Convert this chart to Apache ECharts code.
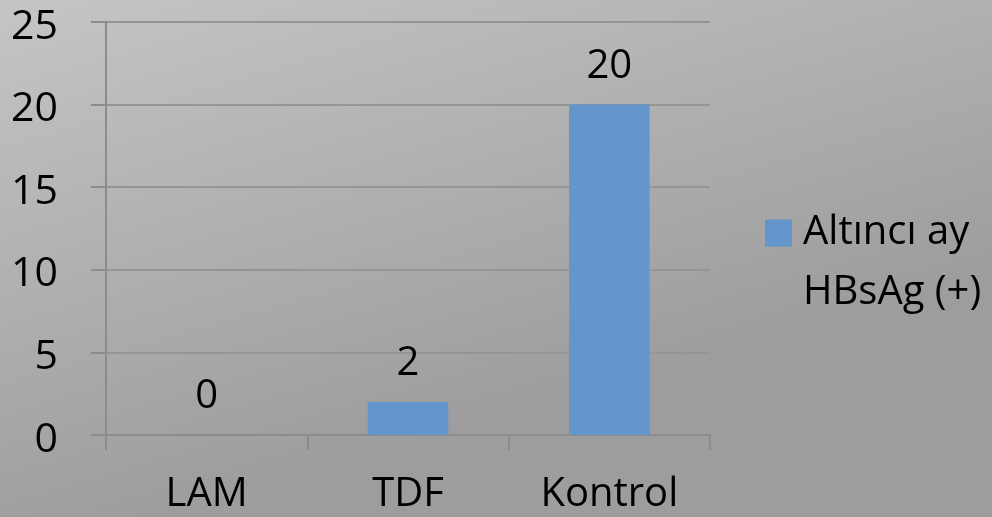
<!DOCTYPE html>
<html>
<head>
<meta charset="utf-8">
<script src="https://cdn.jsdelivr.net/npm/echarts@6/dist/echarts.min.js"></script>
<style>
html,body{margin:0;padding:0;background:#b0b0b0;}
#chart{width:992px;height:517px;}
</style>
</head>
<body>
<div id="chart"></div>
<script>
const categories = ['LAM', 'TDF', 'Kontrol'];
const values = [0, 2, 20];
const seriesName = 'Altıncı ay\nHBsAg (+)';
const yTicks = { min: 0, max: 25, interval: 5 };

const chart = echarts.init(document.getElementById('chart'));
const font = '"Open Sans", sans-serif';
chart.setOption({
  backgroundColor: {
    type: 'linear', x: 0, y: 0, x2: 0.15, y2: 1,
    colorStops: [{offset: 0, color: '#c5c5c5'}, {offset: 1, color: '#9d9d9d'}]
  },
  animation: false,
  grid: { left: 106, right: 282, top: 22, bottom: 82 },
  legend: {
    data: [seriesName],
    orient: 'vertical',
    left: 760, top: 198,
    itemWidth: 27, itemHeight: 87,
    icon: 'path://M0,0L27,0L27,27L0,27Z M0,87L27,87Z',
    selectedMode: false,
    itemStyle: { borderWidth: 0 },
    textStyle: { fontFamily: font, fontSize: 40, color: '#000', lineHeight: 60, padding: [0, 0, 0, 6] }
  },
  xAxis: {
    type: 'category',
    data: categories,
    axisLine: { lineStyle: { color: '#8c8c8c', width: 2 } },
    axisTick: { show: true, length: 15, lineStyle: { color: '#8c8c8c', width: 2 } },
    axisLabel: { fontFamily: font, fontSize: 40, color: '#000', margin: 40 }
  },
  yAxis: {
    type: 'value',
    min: yTicks.min, max: yTicks.max, interval: yTicks.interval,
    axisLine: { show: true, lineStyle: { color: '#8c8c8c', width: 2 } },
    axisTick: { show: true, length: 15, lineStyle: { color: '#8c8c8c', width: 2 } },
    splitLine: { lineStyle: { color: '#959595', width: 2 } },
    axisLabel: { fontFamily: font, fontSize: 41, color: '#000', margin: 48, verticalAlign: 'top', lineHeight: 10 }
  },
  series: [{
    name: seriesName,
    type: 'bar',
    data: values,
    barWidth: '40%',
    itemStyle: { color: '#6496cb' },
    label: { show: true, position: 'top', distance: 18, fontFamily: font, fontSize: 40, color: '#000' }
  }]
});
</script>
</body>
</html>
